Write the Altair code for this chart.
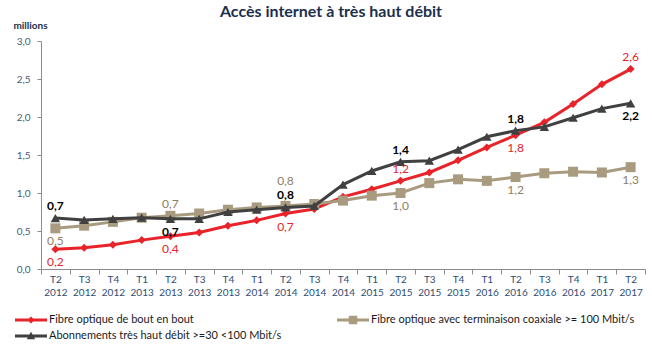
import altair as alt
import pandas as pd

quarters = ["T2 2012", "T3 2012", "T4 2012", "T1 2013", "T2 2013", "T3 2013", "T4 2013",
            "T1 2014", "T2 2014", "T3 2014", "T4 2014", "T1 2015", "T2 2015", "T3 2015",
            "T4 2015", "T1 2016", "T2 2016", "T3 2016", "T4 2016", "T1 2017", "T2 2017"]

series_names = ["Fibre optique de bout en bout",
                "Fibre optique avec terminaison coaxiale >= 100 Mbit/s",
                "Abonnements très haut débit >=30 <100 Mbit/s"]

fibre_ftth = [0.26, 0.28, 0.32, 0.38, 0.43, 0.48, 0.57, 0.64, 0.73, 0.79, 0.95,
              1.05, 1.16, 1.27, 1.43, 1.60, 1.76, 1.93, 2.17, 2.43, 2.63]
fibre_coax = [0.535, 0.57, 0.62, 0.675, 0.70, 0.73, 0.78, 0.81, 0.83, 0.855, 0.90,
              0.965, 1.00, 1.13, 1.18, 1.16, 1.21, 1.26, 1.28, 1.27, 1.34]
thd_30_100 = [0.67, 0.645, 0.66, 0.675, 0.66, 0.66, 0.75, 0.78, 0.81, 0.83, 1.11,
              1.29, 1.41, 1.425, 1.57, 1.74, 1.82, 1.87, 1.99, 2.11, 2.18]

label_quarters = ["T2 2012", "T2 2013", "T2 2014", "T2 2015", "T2 2016", "T2 2017"]
ftth_labels = ["0,2", "0,4", "0,7", "1,2", "1,8", "2,6"]
ftth_label_pos = ["below", "below", "below", "above", "below", "above"]
coax_labels = ["0,5", "0,7", "0,8", "1,0", "1,2", "1,3"]
coax_label_pos = ["below", "above", "high", "below", "below", "below"]
thd_labels = ["0,7", "0,7", "0,8", "1,4", "1,8", "2,2"]
thd_label_pos = ["above", "below", "above", "above", "above", "below"]

# ---- styling ----
line_colors = ["#E8232A", "#A89B7F", "#404040"]
label_colors = ["#E8232A", "#8E8064", "#000000"]
label_weights = ["normal", "normal", "bold"]
point_shapes = ["diamond", "square", "triangle-up"]
point_sizes = [64, 100, 90]
pos_dy = {"above": -12, "below": 13, "high": -25}
legend_paths = [
    "M-2.667,-0.25L2.667,-0.25L2.667,0.25L-2.667,0.25Z M0,-0.6L0.6,0L0,0.6L-0.6,0Z",
    "M-2.667,-0.25L2.667,-0.25L2.667,0.25L-2.667,0.25Z M-0.7,-0.7L0.7,-0.7L0.7,0.7L-0.7,0.7Z",
    "M-2.667,-0.25L2.667,-0.25L2.667,0.25L-2.667,0.25Z M0,-0.7L0.7,0.55L-0.7,0.55Z",
]

all_values = [fibre_ftth, fibre_coax, thd_30_100]
all_labels = [ftth_labels, coax_labels, thd_labels]
all_pos = [ftth_label_pos, coax_label_pos, thd_label_pos]

rows = []
for name, vals in zip(series_names, all_values):
    for q, v in zip(quarters, vals):
        rows.append({"quarter": q, "series": name, "value": v})
df = pd.DataFrame(rows)

lrows = []
for name, vals, labs, poss in zip(series_names, all_values, all_labels, all_pos):
    for q, t, p in zip(label_quarters, labs, poss):
        lrows.append({"quarter": q, "series": name, "value": vals[quarters.index(q)],
                      "text": t, "pos": p})
ldf = pd.DataFrame(lrows)

x_enc = alt.X("quarter:N", sort=quarters, bandPosition=0.5,
              scale=alt.Scale(type="band", domain=quarters, paddingInner=0, paddingOuter=0),
              axis=alt.Axis(title=None, labelAngle=0,
                            labelExpr="isValid(datum.value) ? split(datum.value, ' ') : ''",
                            labelLineHeight=13, labelFontSize=10, labelFont="Lato",
                            labelColor="#2E4D74", tickBand="extent", tickSize=5,
                            tickColor="#8C8C8C", domainColor="#8C8C8C", labelPadding=0,
                            grid=False, labelOverlap=False, labelBaseline="top"))
y_enc = alt.Y("value:Q", scale=alt.Scale(domain=[0, 3], nice=False),
              axis=alt.Axis(values=[0, 0.5, 1, 1.5, 2, 2.5, 3],
                            labelExpr="replace(format(datum.value, '.1f'), '.', ',')",
                            labelFontSize=10, labelFont="Lato", labelColor="#4A5B72",
                            tickSize=4, labelPadding=7, tickColor="#8C8C8C",
                            domainColor="#8C8C8C", grid=False,
                            title="millions", titleAngle=0, titleX=-11, titleY=-16,
                            titleAlign="center", titleBaseline="middle",
                            titleFont="Lato", titleFontSize=10, titleFontWeight="bold",
                            titleColor="#1C2F4E"))

layers = []
for i, name in enumerate(series_names):
    sdf = df[df["series"] == name]
    layers.append(alt.Chart(sdf).mark_line(color=line_colors[i], strokeWidth=3)
                  .encode(x=x_enc, y=y_enc))
    layers.append(alt.Chart(sdf).mark_point(filled=True, opacity=1, color=line_colors[i],
                                             shape=point_shapes[i], size=point_sizes[i])
                  .encode(x=x_enc, y=y_enc))

for i, name in enumerate(series_names):
    for p, dy in pos_dy.items():
        sub = ldf[(ldf["series"] == name) & (ldf["pos"] == p)]
        if len(sub) == 0:
            continue
        layers.append(alt.Chart(sub).mark_text(dy=dy, font="Lato", fontSize=12,
                                               fontWeight=label_weights[i],
                                               color=label_colors[i])
                      .encode(x=x_enc, y=y_enc, text="text:N"))

legend_def = alt.Legend(orient="none", legendX=-16, legendY=273, columns=2,
                        direction="horizontal",
                        columnPadding=54, rowPadding=5, symbolSize=144,
                        symbolStrokeWidth=0, symbolOpacity=1, labelFont="Lato",
                        labelFontSize=11, labelColor="#1A1A1A", labelOffset=12,
                        padding=0, labelLimit=400)

legend_layer = alt.Chart(df[df["quarter"] == quarters[0]]).mark_point(filled=True, opacity=0).encode(
    x=x_enc, y=y_enc,
    color=alt.Color("series:N", title=None,
                    scale=alt.Scale(domain=series_names, range=line_colors), legend=legend_def),
    shape=alt.Shape("series:N", title=None,
                    scale=alt.Scale(domain=series_names, range=legend_paths), legend=legend_def),
)
layers.append(legend_layer)

chart = alt.layer(*layers).properties(
    width=604, height=228,
    title=alt.TitleParams("Accès internet à très haut débit", font="Lato", fontSize=16,
                          fontWeight="bold", color="#1C2F4E", anchor="middle", dx=-12,
                          dy=4, offset=4, frame="group"),
    padding={"left": 41, "top": 41, "right": 7, "bottom": 82},
    autosize=alt.AutoSizeParams(type="none"),
).configure_view(stroke=None)

chart.save("out.html", embed_options={"renderer": "svg", "actions": False})
